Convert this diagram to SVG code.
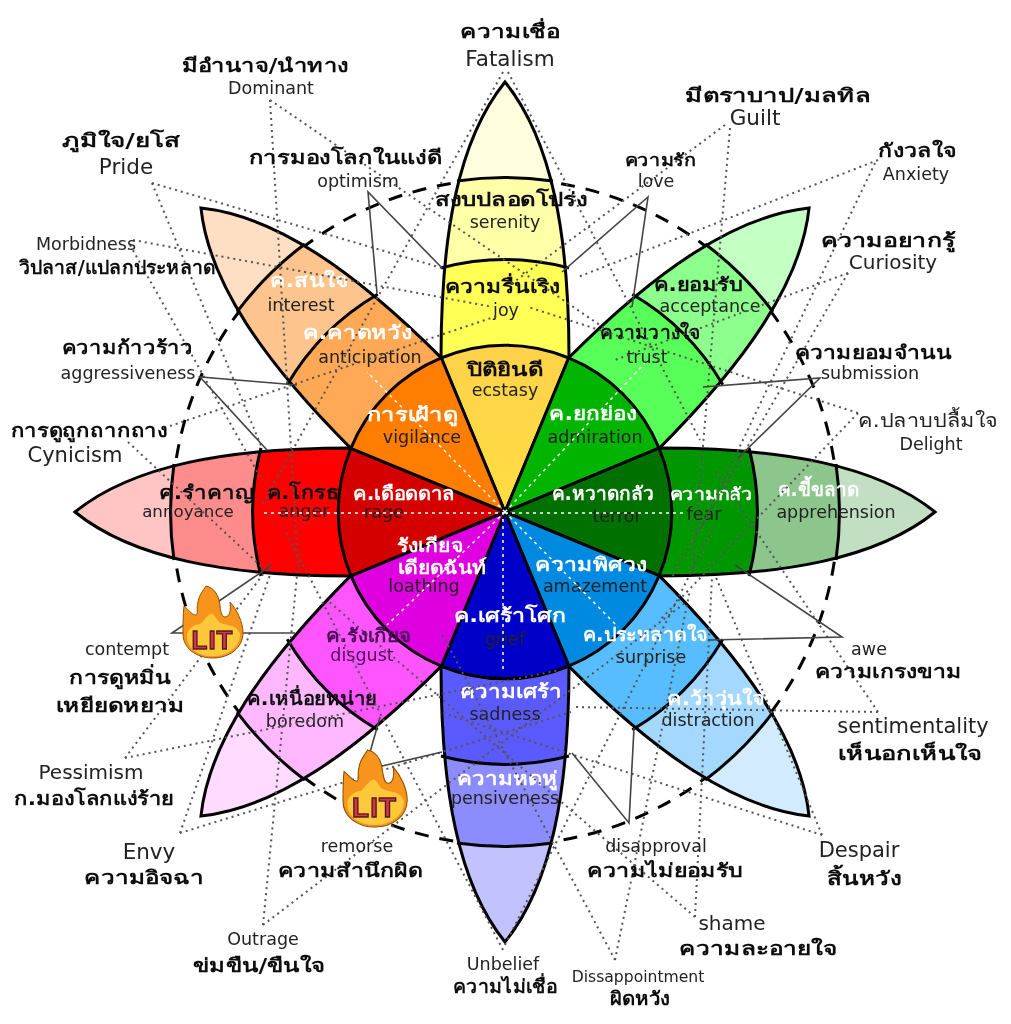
<svg xmlns="http://www.w3.org/2000/svg" xmlns:xlink="http://www.w3.org/1999/xlink" width="1011" height="1024" viewBox="0 0 1011 1024">
<style>
text{font-family:"DejaVu Sans","Noto Sans",sans-serif;text-anchor:middle;fill:#222;font-size:17.5px}
.b,.k{font-weight:bold;fill:#111;font-size:19px}
.w{font-weight:bold;fill:#fff;font-size:19px}
.big{font-size:21.5px}
.t{font-size:21px}
.d{fill:none;stroke:#555;stroke-width:2;stroke-dasharray:2 4}
.p{fill:none;stroke:#444;stroke-width:1.6}
.o{fill:none;stroke:#000;stroke-width:3}
.lit{font-family:"Liberation Sans",sans-serif;font-weight:bold;font-size:26px;fill:#d8324e;stroke:#4a1e1e;stroke-width:1.3;letter-spacing:1px}
</style>
<defs>
<filter id="soft" x="0" y="0" width="100%" height="100%"><feGaussianBlur stdDeviation="0.5"/></filter>
<clipPath id="pc"><path d="M505,82C458,140 441,235 441,358L505,512L569,358C569,235 552,140 505,82Z"/></clipPath>
<g id="s1" clip-path="url(#pc)"><circle cx="505" cy="512" r="166"/></g>
<g id="s2" clip-path="url(#pc)"><path fill-rule="evenodd" d="M253,512a252,252 0 1,0 504,0a252,252 0 1,0 -504,0ZM339,512a166,166 0 1,0 332,0a166,166 0 1,0 -332,0Z"/></g>
<g id="s3" clip-path="url(#pc)"><path fill-rule="evenodd" d="M171,512a334,334 0 1,0 668,0a334,334 0 1,0 -668,0ZM253,512a252,252 0 1,0 504,0a252,252 0 1,0 -504,0Z"/></g>
<g id="s4" clip-path="url(#pc)"><path fill-rule="evenodd" d="M55,512a450,450 0 1,0 900,0a450,450 0 1,0 -900,0ZM171,512a334,334 0 1,0 668,0a334,334 0 1,0 -668,0Z"/></g>
<g id="out" class="o">
<path d="M505,82C458,140 441,235 441,358L505,512L569,358C569,235 552,140 505,82Z"/>
<path d="M441,358A166,166 0 0,1 569,358M441,268A252,252 0 0,1 569,268M457,181A334,334 0 0,1 553,181"/>
</g>
<linearGradient id="gE" x1="0" y1="0" x2="0" y2="1"><stop offset="0" stop-color="#ffd24a"/><stop offset="1" stop-color="#ffe83a"/></linearGradient>
<g id="lit">
<path fill="#f7941d" stroke="#8a5200" d="M23,0C32,2 36,10 37,20C38,27 39,31 42,31C47,31 48,24 47,16C54,24 60,36 60,47C60,62 46,72 30,72C13,72 0,62 0,48C0,38 0,28 1,20C5,23 8,28 12,29C16,30 13,22 15,16C16,9 20,5 23,0Z"/>
<path fill="#ffc83a" d="M4,48C6,42 12,38 17,38C22,34 26,26 30,28C33,31 34,35 38,37C44,40 54,38 57,48C57,62 44,70 30,70C14,70 3,62 4,48Z"/>
<text class="lit" x="29.5" y="63">LIT</text>
</g>
</defs>
<rect width="1011" height="1024" fill="#fff"/>
<g id="diagram" filter="url(#soft)">
<circle id="ring" cx="505" cy="512" r="333" fill="none" stroke="#000" stroke-width="3" stroke-dasharray="14 11"/>

<g id="petals">
<g id="top"><use href="#s4" fill="#ffffe0"/><use href="#s3" fill="#ffffa8"/><use href="#s2" fill="#ffff54"/><use href="#s1" fill="url(#gE)"/><use href="#out"/></g>
<g id="upper-right" transform="rotate(45 505 512)"><use href="#s4" fill="#c4ffc4"/><use href="#s3" fill="#8cff8c"/><use href="#s2" fill="#59ff59"/><use href="#s1" fill="#00b400"/><use href="#out"/></g>
<g id="right" transform="rotate(90 505 512)"><use href="#s4" fill="#c3dfc3"/><use href="#s3" fill="#8cc68c"/><use href="#s2" fill="#009600"/><use href="#s1" fill="#007000"/><use href="#out"/></g>
<g id="lower-right" transform="rotate(135 505 512)"><use href="#s4" fill="#d2ebff"/><use href="#s3" fill="#a5d8ff"/><use href="#s2" fill="#59bdff"/><use href="#s1" fill="#0089e0"/><use href="#out"/></g>
<g id="bottom" transform="rotate(180 505 512)"><use href="#s4" fill="#c2c2ff"/><use href="#s3" fill="#8c8cff"/><use href="#s2" fill="#5a5aff"/><use href="#s1" fill="#0000c8"/><use href="#out"/></g>
<g id="lower-left" transform="rotate(225 505 512)"><use href="#s4" fill="#ffdcff"/><use href="#s3" fill="#ffb8ff"/><use href="#s2" fill="#ff54ff"/><use href="#s1" fill="#de00de"/><use href="#out"/></g>
<g id="left" transform="rotate(270 505 512)"><use href="#s4" fill="#ffc4c4"/><use href="#s3" fill="#ff8c8c"/><use href="#s2" fill="#ff0000"/><use href="#s1" fill="#d40000"/><use href="#out"/></g>
<g id="upper-left" transform="rotate(315 505 512)"><use href="#s4" fill="#ffdfc4"/><use href="#s3" fill="#fdc48e"/><use href="#s2" fill="#ffa854"/><use href="#s1" fill="#ff7d00"/><use href="#out"/></g>
</g>

<g id="serenity"><text class="k" x="511" y="206" textLength="153" lengthAdjust="spacingAndGlyphs">สงบปลอดโปร่ง</text><text x="505" y="228">serenity</text></g>
<g id="acceptance"><text class="k" x="698" y="291" textLength="89" lengthAdjust="spacingAndGlyphs">ค.ยอมรับ</text><text x="710" y="312">acceptance</text></g>
<g id="apprehension"><text class="w" x="818" y="496" textLength="81" lengthAdjust="spacingAndGlyphs">ค.ขี้ขลาด</text><text x="836" y="518">apprehension</text></g>
<g id="distraction"><text class="w" x="716" y="705" textLength="98" lengthAdjust="spacingAndGlyphs">ค.ว้าวุ่นใจ</text><text x="708" y="726">distraction</text></g>
<g id="pensiveness"><text class="w" x="507" y="785" textLength="101" lengthAdjust="spacingAndGlyphs">ความหดหู่</text><text x="505" y="804">pensiveness</text></g>
<g id="annoyance"><text class="k" x="206" y="499" textLength="95" lengthAdjust="spacingAndGlyphs">ค.รำคาญ</text><text x="188" y="517" style="font-size:16.7px">annoyance</text></g>
<g id="interest"><text class="w" x="309" y="287" textLength="78" lengthAdjust="spacingAndGlyphs">ค.สนใจ</text><text x="301" y="311">interest</text></g>
<g id="ecstasy"><text class="k" x="505" y="376" textLength="76" lengthAdjust="spacingAndGlyphs">ปิติยินดี</text><text x="505" y="396">ecstasy</text></g>
<g id="admiration"><text class="w" x="593" y="420" textLength="88" lengthAdjust="spacingAndGlyphs">ค.ยกย่อง</text><text x="595" y="443">admiration</text></g>
<g id="terror"><text class="w" x="603" y="500" textLength="103" lengthAdjust="spacingAndGlyphs">ค.หวาดกลัว</text><text x="617" y="522">terror</text></g>
<g id="amazement"><text class="w" x="591" y="571" textLength="112" lengthAdjust="spacingAndGlyphs">ความพิศวง</text><text x="595" y="592">amazement</text></g>
<g id="rage"><text class="w" x="404" y="500" textLength="102" lengthAdjust="spacingAndGlyphs">ค.เดือดดาล</text><text x="384" y="518">rage</text></g>
<g id="vigilance"><text class="w" x="412" y="421" textLength="91" lengthAdjust="spacingAndGlyphs">การเฝ้าดู</text><text x="422" y="443">vigilance</text></g>
<g id="loathing"><text class="w" x="430" y="552" textLength="66" lengthAdjust="spacingAndGlyphs">รังเกียจ</text><text class="w" x="442" y="574" textLength="89" lengthAdjust="spacingAndGlyphs">เดียดฉันท์</text><text x="424" y="592">loathing</text></g>
<g id="grief"><text class="w" x="510" y="622" textLength="113" lengthAdjust="spacingAndGlyphs">ค.เศร้าโศก</text><text x="505" y="645">grief</text></g>
<g id="joy"><text class="k" x="502" y="293" textLength="115" lengthAdjust="spacingAndGlyphs">ความรื่นเริง</text><text x="506" y="316">joy</text></g>
<g id="trust"><text class="k" x="650" y="339" textLength="100" lengthAdjust="spacingAndGlyphs">ความวางใจ</text><text x="647" y="363">trust</text></g>
<g id="fear"><text class="w" x="711" y="500" textLength="83" lengthAdjust="spacingAndGlyphs" style="font-size:17px">ความกลัว</text><text x="704" y="520">fear</text></g>
<g id="surprise"><text class="w" x="645" y="641" textLength="125" lengthAdjust="spacingAndGlyphs">ค.ประหลาดใจ</text><text x="651" y="663">surprise</text></g>
<g id="sadness"><text class="w" x="511" y="698" textLength="102" lengthAdjust="spacingAndGlyphs">ความเศร้า</text><text x="505" y="720">sadness</text></g>
<g id="disgust"><text class="k" x="368" y="642" textLength="85" lengthAdjust="spacingAndGlyphs" style="fill:#4a0a5a">ค.รังเกียจ</text><text x="362" y="661" style="fill:#4a0a5a">disgust</text></g>
<g id="boredom"><text class="k" x="312" y="705" textLength="130" lengthAdjust="spacingAndGlyphs">ค.เหนื่อยหน่าย</text><text x="305" y="727">boredom</text></g>
<g id="anger"><text class="k" x="303" y="499" textLength="73" lengthAdjust="spacingAndGlyphs">ค.โกรธ</text><text x="304" y="517">anger</text></g>
<g id="anticipation"><text class="w" x="357" y="339" textLength="109" lengthAdjust="spacingAndGlyphs">ค.คาดหวัง</text><text x="370" y="363">anticipation</text></g>

<g id="connectors">
<g stroke="#fff" stroke-width="1.5" stroke-dasharray="3 4" fill="none">
<path d="M505,512L367,372M505,512L645,363M505,512L387,625M505,512L618,627M505,513H260M505,513H685M503,512V673"/>
</g>
<path class="d" d="M503,72L262,505"/>
<path class="d" d="M508,72L700,440"/>
<path class="d" d="M270,100L298,565"/>
<path class="d" d="M270,100L610,332"/>
<path class="d" d="M152,183L442,268"/>
<path class="d" d="M152,183L262,448"/>
<path class="d" d="M133,240L493,307"/>
<path class="d" d="M130,245L262,480"/>
<path class="d" d="M170,426L500,315"/>
<path class="d" d="M128,442L262,567"/>
<path class="d" d="M263,925L298,565"/>
<path class="d" d="M263,925L685,603"/>
<path class="d" d="M125,758L270,565"/>
<path class="d" d="M125,758L560,670"/>
<path class="d" d="M180,833L270,575"/>
<path class="d" d="M180,833L571,712"/>
<path class="d" d="M503,950L285,530"/>
<path class="d" d="M505,945L712,530"/>
<path class="d" d="M615,960L690,590"/>
<path class="d" d="M615,960L442,634"/>
<path class="d" d="M822,835L440,712"/>
<path class="d" d="M822,835L715,575"/>
<path class="d" d="M695,917L712,577"/>
<path class="d" d="M695,917L327,600"/>
<path class="d" d="M878,712L572,707"/>
<path class="d" d="M878,712L715,470"/>
<path class="d" d="M858,413L660,620"/>
<path class="d" d="M858,413L528,307"/>
<path class="d" d="M848,273L615,360"/>
<path class="d" d="M848,273L672,577"/>
<path class="d" d="M878,160L578,277"/>
<path class="d" d="M875,163L700,530"/>
<path class="d" d="M730,128L692,575"/>
<path class="d" d="M725,125L510,285"/>
<path class="p" d="M442,268L368,192L377,293"/>
<path class="p" d="M562,272L648,197L632,307"/>
<path class="p" d="M703,387L820,378L738,458"/>
<path class="p" d="M708,640L842,637L735,565"/>
<path class="p" d="M634,728L629,823L572,753"/>
<path class="p" d="M380,717L365,770L442,752"/>
<path class="p" d="M295,633H172L272,565"/>
<path class="p" d="M297,385L200,377L267,450"/>
</g>

<g id="flame-1"><use href="#lit" transform="translate(183 586)"/></g>
<g id="flame-2"><use href="#lit" transform="translate(343 750) scale(1.07)"/></g>

<g id="n-fatalism"><text class="b" x="510" y="38" textLength="100" lengthAdjust="spacingAndGlyphs">ความเชื่อ</text><text class="big" x="510" y="66">Fatalism</text></g>
<g id="n-dominant"><text class="b" x="265" y="72" textLength="167" lengthAdjust="spacingAndGlyphs">มีอำนาจ/นำทาง</text><text x="271" y="94">Dominant</text></g>
<g id="n-pride"><text class="b" x="121" y="147" textLength="118" lengthAdjust="spacingAndGlyphs">ภูมิใจ/ยโส</text><text class="big" x="126" y="174">Pride</text></g>
<g id="n-optimism"><text class="b" x="345" y="164" textLength="193" lengthAdjust="spacingAndGlyphs">การมองโลกในแง่ดี</text><text x="358" y="187">optimism</text></g>
<g id="n-morbidness"><text x="86" y="250">Morbidness</text><text class="b" x="117" y="274" textLength="197" lengthAdjust="spacingAndGlyphs">วิปลาส/แปลกประหลาด</text></g>
<g id="n-aggressiveness"><text class="b" x="127" y="354" textLength="131" lengthAdjust="spacingAndGlyphs">ความก้าวร้าว</text><text x="128" y="379">aggressiveness</text></g>
<g id="n-cynicism"><text class="b" x="89" y="437" textLength="157" lengthAdjust="spacingAndGlyphs">การดูถูกถากถาง</text><text class="t" x="75" y="462">Cynicism</text></g>
<g id="n-contempt"><text x="127" y="655">contempt</text><text class="b" x="120" y="684" textLength="102" lengthAdjust="spacingAndGlyphs">การดูหมิ่น</text><text class="b" x="120" y="712" textLength="129" lengthAdjust="spacingAndGlyphs">เหยียดหยาม</text></g>
<g id="n-pessimism"><text style="font-size:20px" x="91" y="779">Pessimism</text><text class="b" x="94" y="805" textLength="160" lengthAdjust="spacingAndGlyphs">ก.มองโลกแง่ร้าย</text></g>
<g id="n-envy"><text class="big" x="149" y="859">Envy</text><text class="b" x="144" y="884" textLength="120" lengthAdjust="spacingAndGlyphs">ความอิจฉา</text></g>
<g id="n-remorse"><text x="357" y="852">remorse</text><text class="b" x="350" y="877" textLength="145" lengthAdjust="spacingAndGlyphs">ความสำนึกผิด</text></g>
<g id="n-outrage"><text x="263" y="945">Outrage</text><text class="b" x="259" y="972" textLength="132" lengthAdjust="spacingAndGlyphs">ข่มขืน/ขืนใจ</text></g>
<g id="n-unbelief"><text x="503" y="970">Unbelief</text><text class="b" x="505" y="993" textLength="104" lengthAdjust="spacingAndGlyphs">ความไม่เชื่อ</text></g>
<g id="n-disappointment"><text x="638" y="982" style="font-size:15.6px">Dissappointment</text><text class="b" x="640" y="1005" textLength="60" lengthAdjust="spacingAndGlyphs">ผิดหวัง</text></g>
<g id="n-shame"><text style="font-size:20px" x="732" y="930">shame</text><text class="b" x="758" y="955" textLength="158" lengthAdjust="spacingAndGlyphs">ความละอายใจ</text></g>
<g id="n-disapproval"><text x="656" y="852">disapproval</text><text class="b" x="665" y="877" textLength="156" lengthAdjust="spacingAndGlyphs">ความไม่ยอมรับ</text></g>
<g id="n-despair"><text class="t" x="859" y="857">Despair</text><text class="b" x="864" y="885" textLength="74" lengthAdjust="spacingAndGlyphs">สิ้นหวัง</text></g>
<g id="n-sentimentality"><text class="t" x="913" y="733">sentimentality</text><text class="b" x="910" y="760" textLength="144" lengthAdjust="spacingAndGlyphs">เห็นอกเห็นใจ</text></g>
<g id="n-awe"><text x="869" y="655">awe</text><text class="b" x="888" y="678" textLength="147" lengthAdjust="spacingAndGlyphs">ความเกรงขาม</text></g>
<g id="n-delight"><text style="font-size:19px;font-weight:500" x="928" y="427" textLength="140" lengthAdjust="spacingAndGlyphs">ค.ปลาบปลื้มใจ</text><text x="931" y="450">Delight</text></g>
<g id="n-submission"><text class="b" x="873" y="359" textLength="157" lengthAdjust="spacingAndGlyphs">ความยอมจำนน</text><text x="870" y="379">submission</text></g>
<g id="n-curiosity"><text class="b" x="888" y="247" textLength="135" lengthAdjust="spacingAndGlyphs">ความอยากรู้</text><text style="font-size:20px" x="893" y="269">Curiosity</text></g>
<g id="n-anxiety"><text class="b" x="917" y="157" textLength="78" lengthAdjust="spacingAndGlyphs">กังวลใจ</text><text x="916" y="180">Anxiety</text></g>
<g id="n-guilt"><text class="b" x="778" y="102" textLength="186" lengthAdjust="spacingAndGlyphs">มีตราบาป/มลทิล</text><text class="big" x="755" y="125">Guilt</text></g>
<g id="n-love"><text class="b" x="660" y="166" textLength="71" lengthAdjust="spacingAndGlyphs" style="font-size:17px">ความรัก</text><text x="656" y="187">love</text></g>
</g>
</svg>
